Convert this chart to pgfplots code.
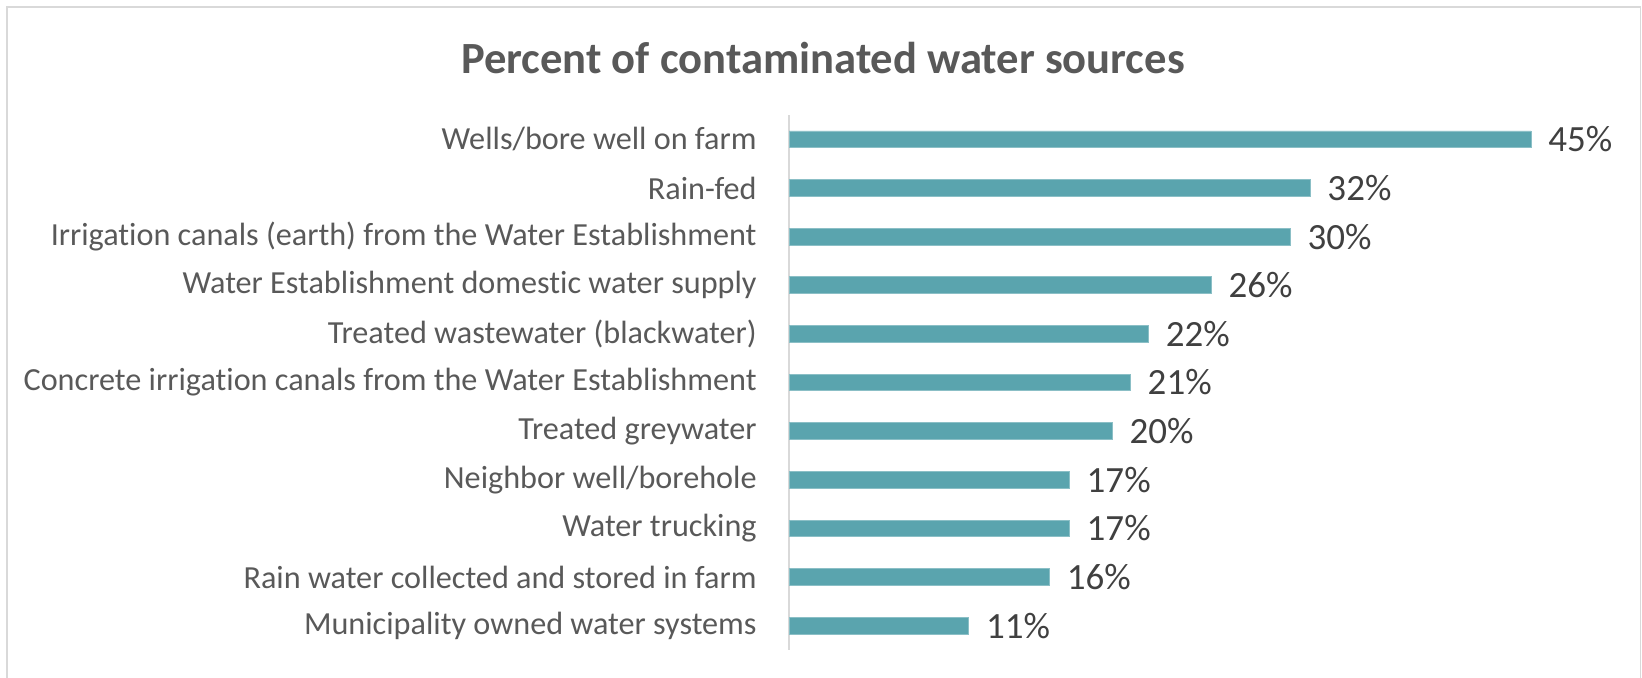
\documentclass[border=0pt]{standalone}
\usepackage{pgfplots}
\pgfplotsset{compat=1.18}
\usepackage{fontspec}
\setmainfont{Carlito}[Ligatures={NoCommon,NoContextual}]
\definecolor{barcol}{HTML}{5AA4AE}
\definecolor{labgray}{HTML}{595959}
\definecolor{valgray}{HTML}{404040}
\definecolor{framegray}{HTML}{D9D9D9}
\begin{document}
\begin{tikzpicture}
\path[use as bounding box] (0,0) rectangle (821pt,338.5pt);
\draw[framegray, line width=0.8pt] (3.5pt,-2pt) -- (3.5pt,335pt) -- (820.25pt,335pt) -- (820.25pt,-2pt);
\node[font=\fontsize{22.3}{26}\selectfont\bfseries, text=labgray] at (411.5pt,309.7pt) {Percent of contaminated water sources};
\begin{axis}[
  at={(394.5pt,13.5pt)}, anchor=south west,
  scale only axis, width=412.25pt, height=267.5pt,
  xbar, bar width=8.35pt,
  xmin=0, xmax=50,
  ymin=-0.5, ymax=10.5, y dir=reverse,
  hide x axis,
  axis y line*=left,
  y axis line style={framegray, line width=0.75pt},
  ytick={0,...,10},
  major tick length=0pt,
  yticklabels={Wells/bore well on farm, Rain-fed, Irrigation canals (earth) from the Water Establishment, Water Establishment domestic water supply, Treated wastewater (blackwater), Concrete irrigation canals from the Water Establishment, Treated greywater, Neighbor well/borehole, Water trucking, Rain water collected and stored in farm, Municipality owned water systems},
  yticklabel style={font=\fontsize{16.1}{19}\selectfont, text=labgray, anchor=east, inner sep=0pt, xshift=-16pt},
  point meta=x,
  nodes near coords={\pgfmathprintnumber[fixed,precision=0,assume math mode=true]{\pgfplotspointmeta}\%},
  nodes near coords style={font=\fontsize{18.5}{22}\selectfont, text=valgray, anchor=west, inner sep=0pt, xshift=8.5pt},
  clip=false,
]
\addplot[fill=barcol, draw=barcol!70!white, line width=0.4pt] coordinates {
(45.0,0) (31.6,1) (30.4,2) (25.6,3) (21.8,4) (20.7,5) (19.6,6) (17.0,7) (17.0,8) (15.8,9) (10.9,10)
};
\end{axis}
\end{tikzpicture}
\end{document}
